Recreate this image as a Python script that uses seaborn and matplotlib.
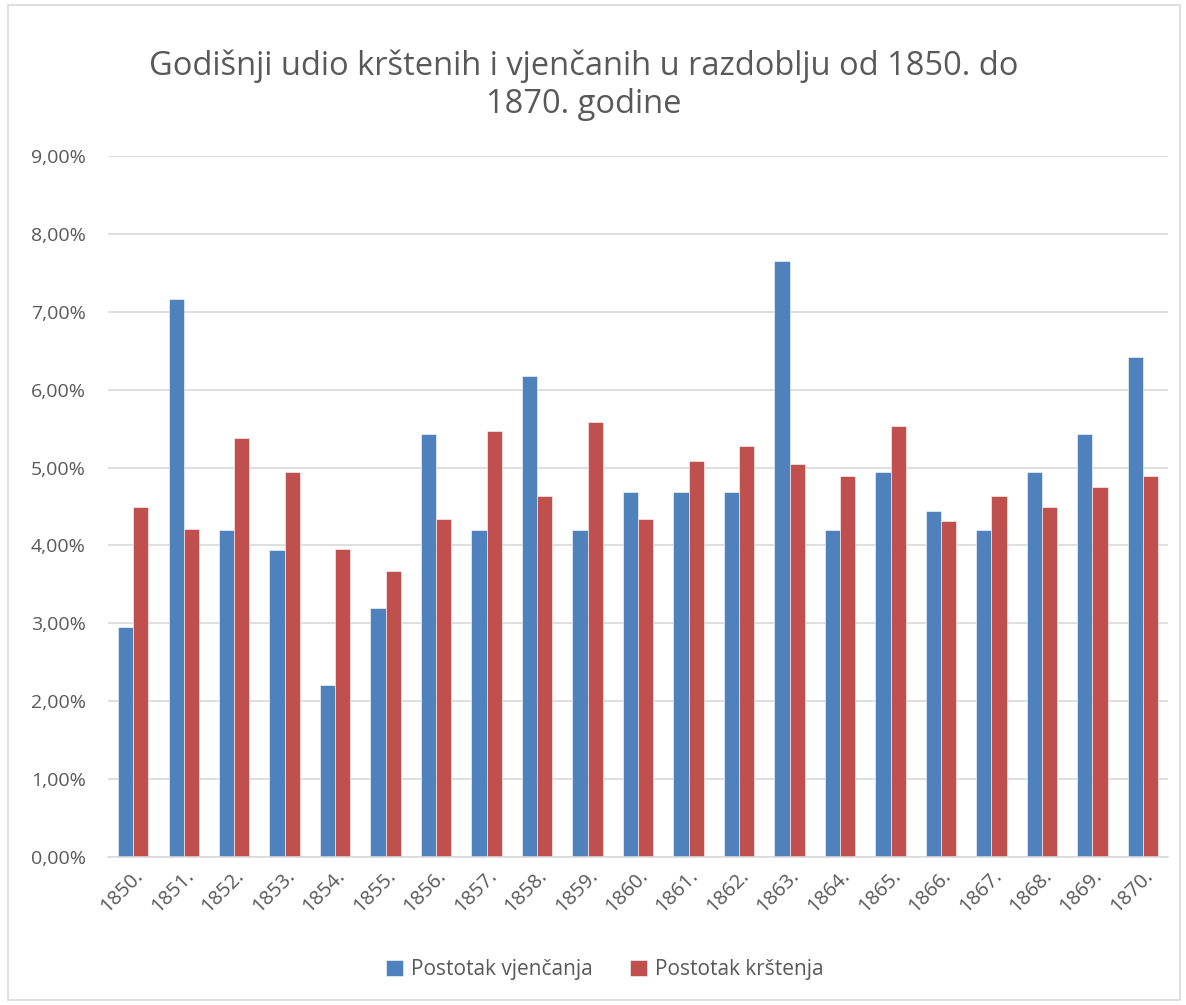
import numpy as np
import pandas as pd
import matplotlib
matplotlib.use('Agg')
import matplotlib.pyplot as plt
import seaborn as sns
from matplotlib.patches import Rectangle
from matplotlib.ticker import FuncFormatter

godine = ['1850.', '1851.', '1852.', '1853.', '1854.', '1855.', '1856.',
          '1857.', '1858.', '1859.', '1860.', '1861.', '1862.', '1863.',
          '1864.', '1865.', '1866.', '1867.', '1868.', '1869.', '1870.']
vjencanja = [2.95, 7.16, 4.20, 3.94, 2.21, 3.20, 5.43, 4.20, 6.17, 4.20, 4.69,
             4.69, 4.69, 7.65, 4.20, 4.94, 4.44, 4.20, 4.94, 5.43, 6.42]
krstenja = [4.50, 4.21, 5.38, 4.94, 3.95, 3.67, 4.34, 5.47, 4.64, 5.58, 4.34,
            5.09, 5.28, 5.04, 4.89, 5.53, 4.31, 4.64, 4.50, 4.75, 4.89]
serije = ['Postotak vjenčanja', 'Postotak krštenja']

df = pd.DataFrame({'Godina': godine * 2,
                   'Postotak': vjencanja + krstenja,
                   'Serija': [serije[0]] * len(godine) + [serije[1]] * len(godine)})

sns.set_style('white')
plt.rcParams['font.family'] = ['Open Sans', 'DejaVu Sans']
siva = '#595959'

fig = plt.figure(figsize=(11.86, 10.05), dpi=100)
ax = fig.add_axes([0.091, 0.147, 0.894, 0.698])

sns.barplot(data=df, x='Godina', y='Postotak', hue='Serija', ax=ax,
            palette=['#4F81BD', '#C0504D'], width=0.6, saturation=1,
            edgecolor='white', linewidth=0.4)

ax.set_ylim(0, 9)
ax.set_yticks(np.arange(0, 10, 1))
ax.yaxis.set_major_formatter(FuncFormatter(lambda v, p: f'{v:.2f}'.replace('.', ',') + '%'))
ax.grid(axis='y', color='#d9d9d9', linewidth=1.2)
ax.set_axisbelow(True)
for s in ['top', 'right', 'left']:
    ax.spines[s].set_visible(False)
ax.spines['bottom'].set_color('#d9d9d9')
ax.spines['bottom'].set_linewidth(1.2)
ax.set_xlim(-0.5, len(godine) - 0.5)
ax.tick_params(axis='y', length=0, pad=16, labelsize=14, labelcolor=siva)
ax.tick_params(axis='x', length=0, pad=6, labelsize=14.5, labelcolor=siva)
plt.setp(ax.get_xticklabels(), rotation=45, ha='right', rotation_mode='anchor')
ax.set_xlabel('')
ax.set_ylabel('')

ax.legend(loc='lower center', bbox_to_anchor=(0.51, 0.006), bbox_transform=fig.transFigure,
          ncol=2, frameon=False, fontsize=15, labelcolor=siva, handlelength=0.8,
          handleheight=0.8, columnspacing=1.8, handletextpad=0.4)

fig.text(0.492, 0.915, 'Godišnji udio krštenih i vjenčanih u razdoblju od 1850. do\n1870. godine',
         ha='center', va='center', fontsize=23.5, color=siva, linespacing=1.2)

fig.patches.append(Rectangle((0.007, 0.005), 0.988, 0.99, transform=fig.transFigure,
                             fill=False, edgecolor='#d9d9d9', linewidth=1.2))

fig.savefig('out.png', dpi=100, facecolor='white')
